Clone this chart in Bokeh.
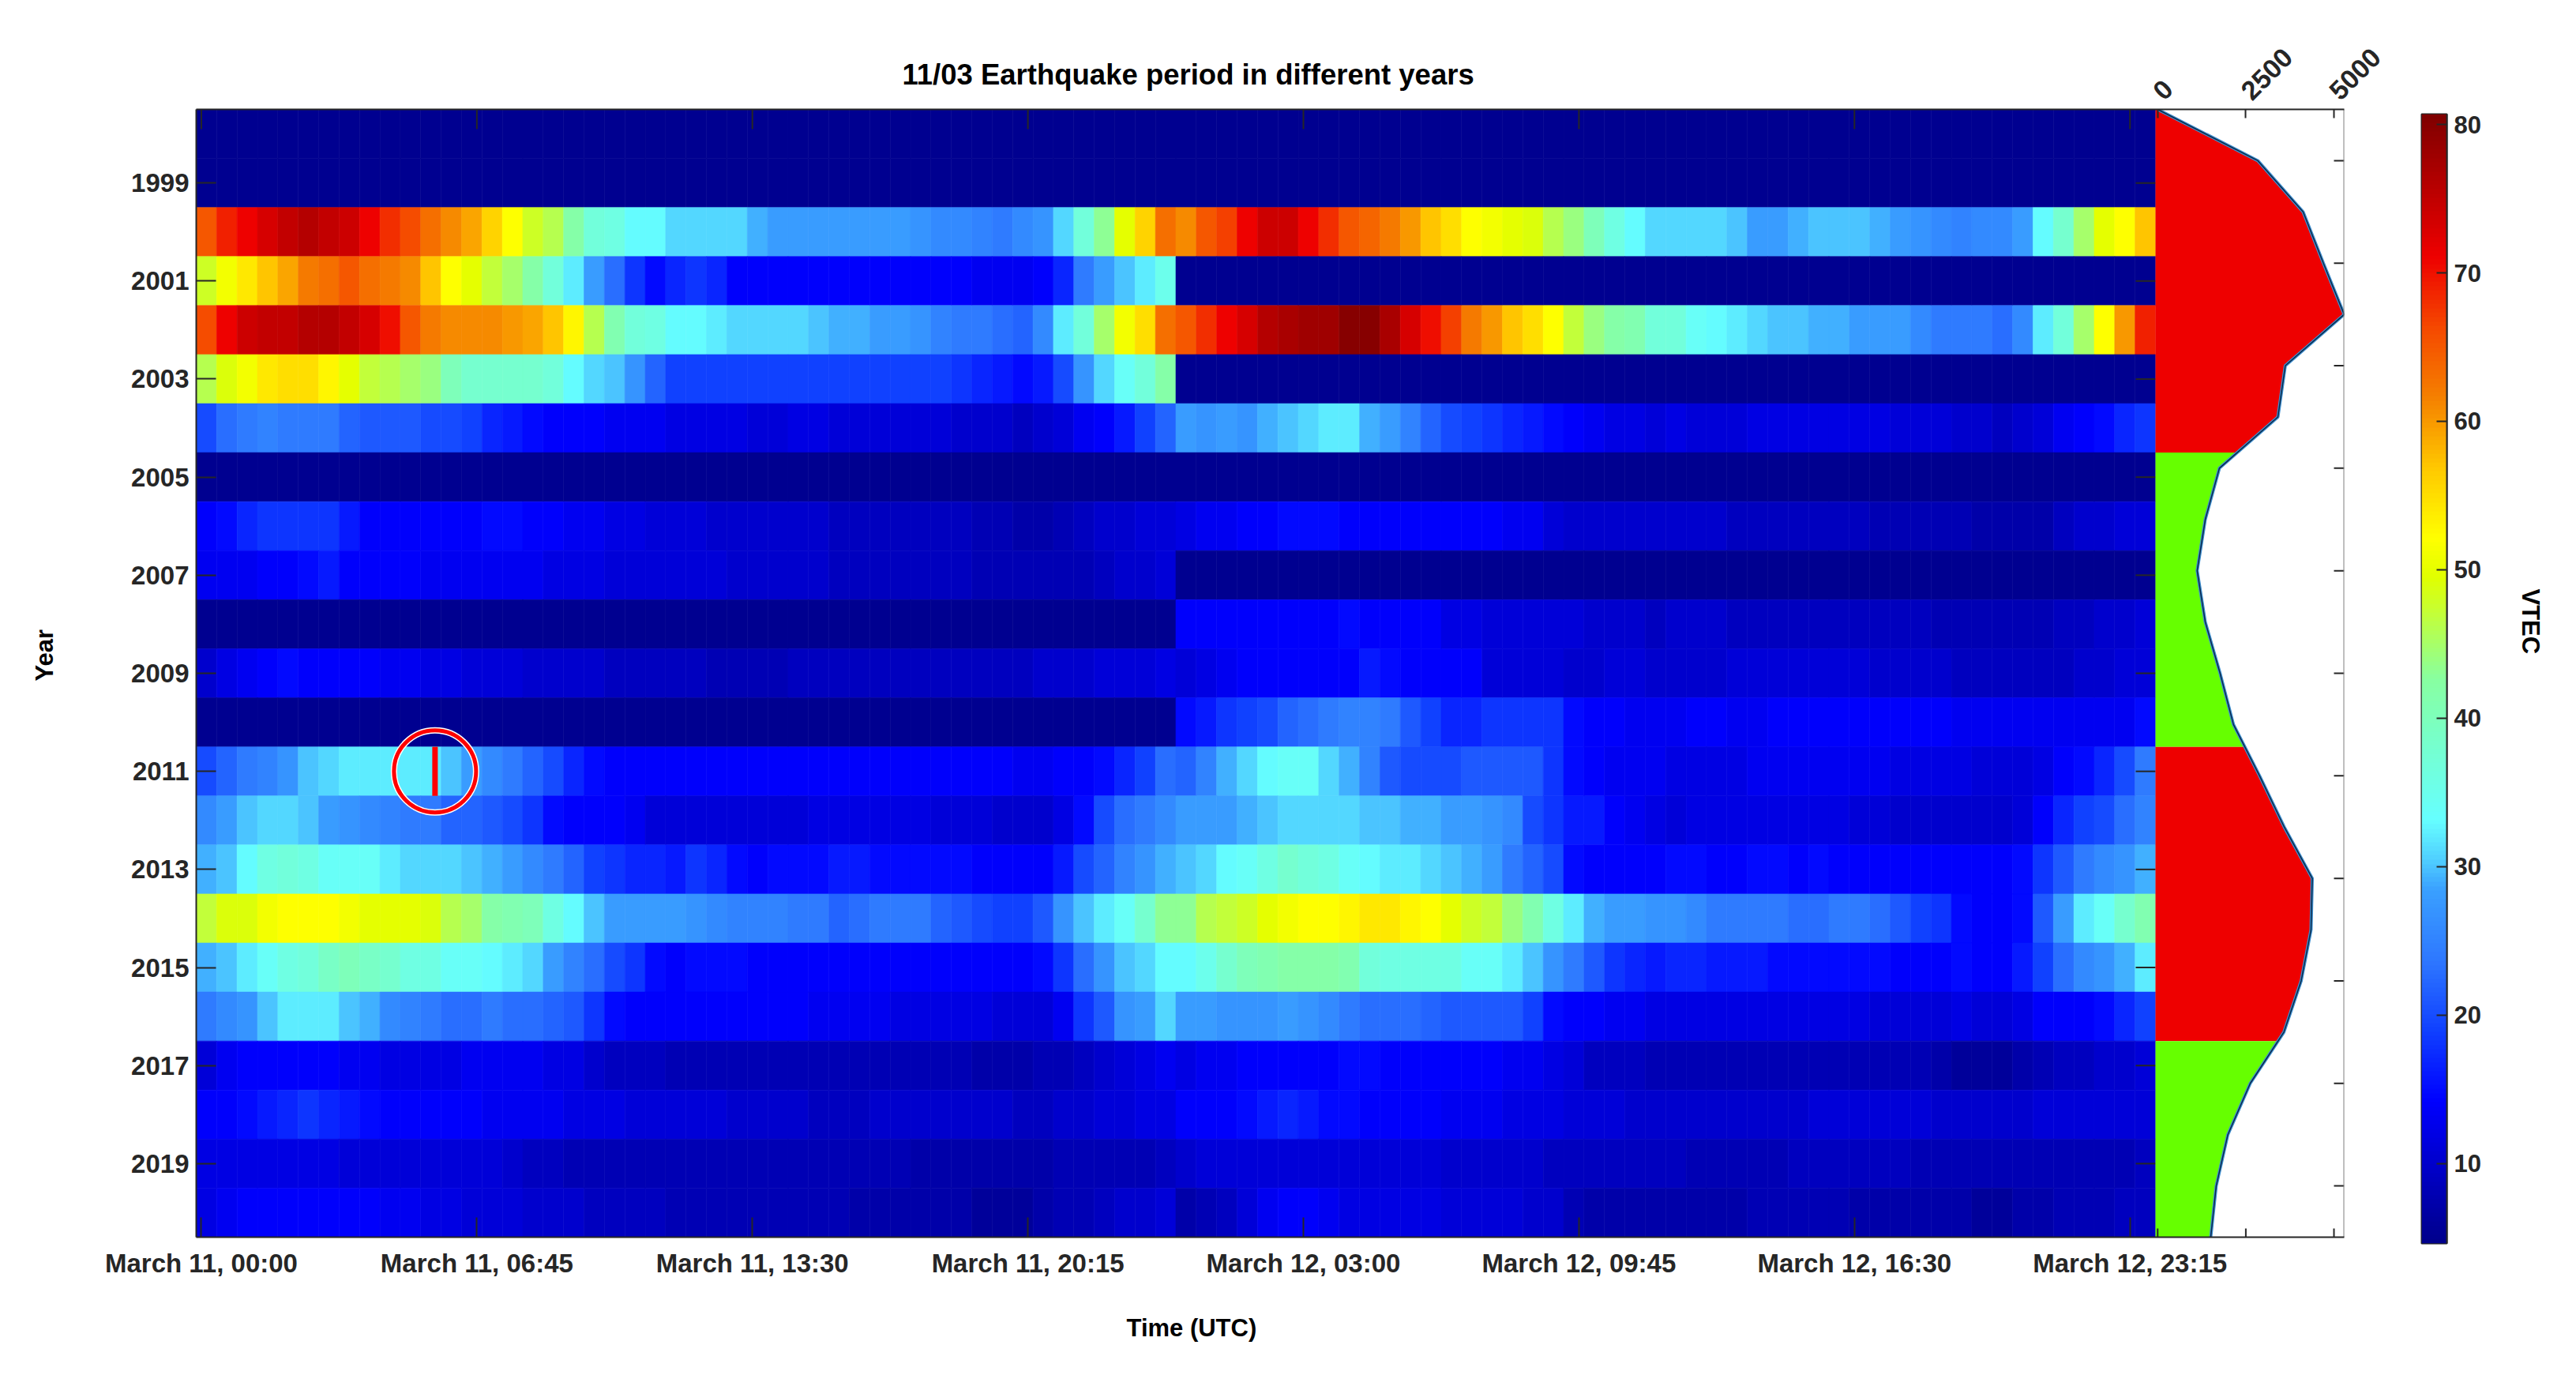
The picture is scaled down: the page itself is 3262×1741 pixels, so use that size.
import math
import numpy as np
from bokeh.embed import file_html
from bokeh.layouts import row
from bokeh.models import (ColumnDataSource, FixedTicker, LinearAxis, LinearColorMapper,
                          Range1d, Title)
from bokeh.plotting import figure
from bokeh.resources import INLINE
from bokeh.transform import transform

# ---------- data: VTEC per year, one value per 30 min over March 11-12 ----------
years = list(range(1998, 2021))
year_ticks = list(range(1999, 2020, 2))
time_tick_index = [1, 28, 55, 82, 109, 136, 163, 190]
time_tick_labels = ["March 11, 00:00", "March 11, 06:45", "March 11, 13:30", "March 11, 20:15",
                    "March 12, 03:00", "March 12, 09:45", "March 12, 16:30", "March 12, 23:15"]

v1998 = [5] * 96
v1999 = [5] * 96
v2000 = [65,69,71,73,75,76,75,74,71,68,66,63,61,59,56,52,48,46,42,37,36,33,33,31,
         31,31,31,29,28,28,28,28,28,28,28,27,26,26,25,24,26,27,31,37,43,50,56,63,
         61,65,67,71,74,74,71,68,65,64,62,60,57,55,52,51,50,49,46,44,40,36,33,31,
         31,31,31,30,28,28,29,30,30,30,29,28,27,26,25,26,26,28,33,38,45,50,52,57]
v2001 = [48,51,54,57,59,62,63,65,63,62,61,57,52,50,47,45,42,37,32,28,23,18,15,17,
         18,17,14,14,14,14,14,14,14,14,14,14,14,14,13,13,13,14,17,24,28,30,32,35] + [5] * 48
v2002 = [66,71,74,75,75,76,76,75,73,70,65,62,61,61,61,60,59,57,53,46,41,37,36,33,
         33,32,31,31,31,31,30,29,29,28,28,27,25,24,24,23,22,26,32,37,45,51,55,63,
         65,68,71,73,76,77,78,78,80,80,77,73,70,67,62,60,57,55,52,47,44,42,41,37,
         37,34,33,32,31,30,30,29,29,28,28,28,26,24,24,24,23,26,32,37,45,52,60,69]
v2003 = [46,49,51,54,55,55,53,50,47,46,45,44,40,38,38,38,38,37,33,31,30,27,22,19,
         19,19,19,19,19,19,19,19,19,19,19,19,19,18,17,16,15,16,20,27,31,34,37,42] + [5] * 48
v2004 = [20,23,24,25,24,24,24,22,21,21,21,20,20,19,17,16,15,14,14,14,13,13,13,12,
         12,12,12,11,11,12,12,11,11,11,11,11,11,10,10,10,9,10,11,13,14,16,19,22,
         28,27,28,27,29,30,31,32,32,29,28,25,22,20,19,18,17,16,15,14,13,12,12,11,
         12,11,11,11,12,12,12,12,12,12,12,11,11,11,10,10,9,10,11,13,14,15,17,18]
v2005 = [5] * 96
v2006 = [14,15,17,18,18,18,18,16,14,14,14,14,14,14,15,15,14,14,13,13,12,12,11,11,
         11,10,10,10,10,10,10,9,9,9,9,9,9,9,8,8,7,7,8,9,10,10,11,11,
         12,13,13,14,14,15,15,15,14,14,14,14,14,14,14,14,13,13,11,10,10,10,10,10,
         10,10,10,9,9,9,9,9,9,9,8,8,8,8,8,7,7,7,7,9,10,10,11,11]
v2007 = [13,13,13,14,14,15,16,14,14,14,14,13,13,13,13,13,13,12,12,12,11,11,11,11,
         11,11,10,10,10,10,10,9,9,9,9,9,9,9,8,8,8,8,8,8,9,10,10,11] + [5] * 48
v2008 = [5] * 48 + [14,14,14,14,14,14,14,14,15,14,14,14,14,12,12,11,11,11,11,11,10,10,10,9,
                    10,10,10,9,9,9,9,9,9,9,9,9,9,8,8,8,8,8,8,9,9,10,10,11]
v2009 = [10,12,13,14,15,14,14,14,14,13,13,12,12,11,11,11,10,10,10,10,9,9,9,9,
         9,8,8,8,8,9,9,9,9,9,9,9,9,9,9,9,9,10,10,10,11,11,11,12,
         11,12,13,14,14,14,14,14,14,16,15,14,14,14,14,11,11,11,11,10,10,11,11,10,
         10,10,10,11,11,11,11,11,11,11,10,10,10,10,9,9,9,9,9,9,10,10,11,11]
v2010 = [5] * 48 + [15,16,18,19,20,22,23,24,25,25,24,21,19,17,17,18,18,18,18,15,14,14,13,13,
                    13,14,14,13,13,14,14,14,14,14,14,14,14,14,13,13,13,13,13,13,13,13,13,15]
v2011 = [20,22,24,25,27,30,31,32,32,32,32,32,30,28,26,24,22,20,17,15,14,14,14,14,
         14,14,14,14,14,14,14,14,14,14,14,14,14,14,14,14,13,13,14,14,15,17,19,23,
         22,25,29,31,33,34,34,31,29,25,21,20,20,20,21,21,21,21,18,15,14,13,13,13,
         12,12,12,12,13,13,13,13,13,13,13,12,12,12,12,11,11,11,12,14,15,17,20,24]
v2012 = [26,28,30,31,31,30,28,27,26,25,24,24,22,22,21,20,18,15,14,14,14,13,11,11,
         11,11,11,11,11,11,12,12,12,12,12,12,11,11,11,10,10,10,12,15,20,23,24,26,
         28,28,28,29,30,31,31,31,31,30,30,29,29,28,28,27,26,20,18,16,16,14,13,12,
         11,12,12,12,12,12,12,12,12,11,11,10,10,10,10,10,10,11,14,17,19,20,23,25]
v2013 = [29,30,33,36,37,36,34,34,34,32,31,31,31,30,29,28,26,24,22,19,18,17,17,16,
         18,17,15,14,15,15,15,16,16,15,15,15,15,15,14,14,14,14,16,20,22,25,27,29,
         30,31,33,34,36,38,37,36,34,33,32,32,31,30,29,28,24,22,20,15,14,14,14,14,
         15,15,14,14,15,15,14,15,14,14,14,14,14,14,14,14,14,15,18,21,24,26,27,29]
v2014 = [47,49,49,51,52,52,52,51,50,50,50,49,46,45,42,41,40,36,33,30,28,28,28,28,
         27,26,25,25,25,24,24,22,23,24,24,24,22,21,20,19,19,21,27,30,32,34,38,43,
         43,46,47,48,50,51,52,52,53,54,54,53,52,50,48,47,44,41,36,32,29,28,28,27,
         27,26,24,24,24,24,23,23,24,24,23,21,19,18,15,14,14,15,21,28,32,34,38,41]
v2015 = [29,30,32,34,36,37,39,40,39,38,36,36,34,34,33,32,31,28,25,23,20,18,15,14,
         15,15,15,14,14,14,14,14,14,14,14,14,14,14,14,14,14,15,18,23,27,30,31,33,
         33,35,38,40,41,42,42,42,41,37,36,36,36,36,34,34,32,30,27,24,21,18,17,16,
         17,17,16,16,16,15,15,15,15,15,15,14,14,14,15,14,14,16,19,23,26,27,29,32]
v2016 = [24,26,27,30,32,32,32,30,29,26,25,24,23,23,24,23,23,22,21,18,15,14,14,14,
         14,14,14,14,14,14,13,13,13,13,12,12,12,12,12,11,11,11,13,18,21,27,28,31,
         28,28,27,27,27,28,27,26,24,23,23,23,22,21,21,21,21,19,15,14,14,13,13,12,
         12,12,12,12,12,12,12,12,12,12,11,11,11,11,12,11,11,12,14,14,14,15,17,19]
v2017 = [11,13,14,14,14,14,14,13,13,12,12,12,12,13,13,13,13,12,12,10,9,9,9,8,
         8,8,8,8,8,8,8,8,8,8,8,8,8,8,7,7,7,8,8,9,10,11,12,13,
         12,13,13,14,14,14,14,14,15,15,14,14,14,14,14,14,13,13,12,11,9,9,9,8,
         8,8,8,8,8,8,8,8,8,8,8,8,8,7,6,6,6,7,8,9,9,10,10,11]
v2018 = [14,14,15,16,17,18,17,16,15,14,14,14,14,14,13,13,13,13,12,12,12,11,11,11,
         11,11,10,10,10,10,9,9,9,10,10,10,10,10,10,10,9,9,10,10,11,11,12,12,
         14,14,14,15,16,17,16,15,15,14,14,14,14,13,13,13,12,12,12,11,11,11,10,10,
         10,10,10,10,10,10,10,11,11,11,11,11,11,10,10,10,10,10,11,11,11,11,11,11]
v2019 = [12,12,12,12,12,12,12,11,11,11,11,11,11,11,11,10,9,9,8,8,8,8,8,8,
         8,8,8,8,8,8,8,8,8,8,8,7,7,7,7,7,7,7,8,8,8,8,8,9,
         10,11,11,11,11,11,11,11,11,11,11,11,11,10,10,10,10,10,9,9,9,9,9,9,
         9,8,8,8,8,8,9,9,9,9,9,9,8,8,8,8,8,8,8,8,8,8,8,9]
v2020 = [12,13,14,14,14,14,14,14,14,13,13,12,12,11,11,11,10,10,10,9,9,9,9,8,
         8,8,8,8,8,8,8,8,7,7,7,7,7,7,6,6,6,7,8,8,9,10,10,11,
         7,8,9,11,13,14,14,13,12,12,12,12,12,11,11,11,11,10,10,8,7,7,7,7,
         7,7,7,7,8,8,8,8,8,7,7,7,7,7,7,6,6,7,7,8,8,8,9,9]
vtec_rows = [v1998, v1999, v2000, v2001, v2002, v2003, v2004, v2005, v2006, v2007, v2008, v2009,
             v2010, v2011, v2012, v2013, v2014, v2015, v2016, v2017, v2018, v2019, v2020]

# Side profile, one value per year step
side_values = [0, 2840, 4125, 4700, 5290, 3620, 3410, 1750, 1350, 1120, 1350, 1770,
               2150, 2890, 3590, 4385, 4350, 4070, 3580, 2625, 1990, 1660, 1505]
side_ticks = [0, 2500, 5000]
side_index_ticks = list(range(2, 23, 2))
cycle_breaks = [2004.5, 2010.5, 2016.5]      # years where the solar phase changes
cycle_colors = ["#EE0000", "#66FF00", "#EE0000", "#66FF00"]
colorbar_ticks = [10, 20, 30, 40, 50, 60, 70, 80]
event_index = 23.9       # about 05:46 UTC
event_year = 2011
vtec_low, vtec_high = 4.6, 80.7

# ---------- styling ----------
FONT = "Liberation Sans"
DARK = "#262626"
stops = [(0, "#00008c"), (.125, "#0000ff"), (.1875, "#1040ff"), (.25, "#2e78ff"), (.3125, "#3aa0ff"),
         (.34, "#50d0ff"), (.375, "#66ffff"), (.4375, "#75ffd0"), (.5, "#88ffa0"), (.5625, "#c8ff30"),
         (.59, "#e0ff00"), (.625, "#ffff00"), (.6875, "#ffc800"), (.75, "#f58000"), (.8125, "#f54800"),
         (.875, "#ee0000"), (1, "#800000")]
pos = [s[0] for s in stops]
chan = [[int(s[1][i:i + 2], 16) for s in stops] for i in (1, 3, 5)]
grid = np.linspace(0, 1, 256)
palette = ["#%02x%02x%02x" % tuple(int(round(np.interp(t, pos, c))) for c in chan) for t in grid]
mapper = LinearColorMapper(palette=palette, low=vtec_low, high=vtec_high)

HEAT_W, SIDE_W, FR_H = 2481, 239, 1428
LEFT, RIGHT, TOP, BOTTOM = 249, 80, 138, 174
LEFT_PANELS = 303                      # axis plus "Year" panel; the excess hangs off the page edge
U_X = HEAT_W / 192                     # px per time step
U_Y = FR_H / 23                        # px per year


def style_axis(ax, tick_in, size="32px"):
    ax.major_tick_in = tick_in
    ax.major_tick_out = 0
    ax.minor_tick_in = 0
    ax.minor_tick_out = 0
    ax.major_tick_line_color = DARK
    ax.major_tick_line_width = 2
    ax.axis_line_color = DARK
    ax.axis_line_width = 2
    ax.major_label_text_font = FONT
    ax.major_label_text_font_style = "bold"
    ax.major_label_text_font_size = size
    ax.major_label_text_color = DARK


def name_title(text, size, align, offset, standoff):
    return Title(text=text, align=align, offset=offset, standoff=standoff, text_font=FONT,
                 text_font_style="bold", text_font_size=size, text_color="black")


# ---------- one frame holds heat map and side profile ----------
x0, x1 = -62, 5291
U_S = SIDE_W / (x1 - x0)               # px per side-profile unit
U_I = FR_H / 22                        # px per side-profile index step

p = figure(frame_width=HEAT_W + SIDE_W, frame_height=FR_H, min_border_left=LEFT, min_border_right=RIGHT,
           min_border_top=TOP, min_border_bottom=BOTTOM, output_backend="svg", toolbar_location=None,
           x_range=Range1d(0.5, 192.5 + SIDE_W / U_X), y_range=Range1d(2020.5, 1997.5),
           x_axis_location="below", y_axis_location="left", outline_line_color=None, frame_align=False,
           margin=(0, 0, 0, LEFT - LEFT_PANELS))
p.extra_x_ranges = {"side": Range1d(x0 - HEAT_W / U_S, x1)}
p.extra_y_ranges = {"side": Range1d(23, 1)}
p.grid.visible = False

xs, ys, vals = [], [], []
for yr, r in zip(years, vtec_rows):
    for i, v in enumerate(r):
        xs.append(1.5 + 2 * i)
        ys.append(yr)
        vals.append(v)
src = ColumnDataSource(dict(x=xs, y=ys, v=vals))
p.rect("x", "y", width=2, height=1, source=src, fill_color=transform("v", mapper),
       line_color=transform("v", mapper), line_width=0.6)

style_axis(p.xaxis[0], 25, "33px")
p.xaxis[0].ticker = FixedTicker(ticks=time_tick_index)
p.xaxis[0].major_label_overrides = dict(zip(time_tick_index, time_tick_labels))
p.xaxis[0].major_label_standoff = 14
style_axis(p.yaxis[0], 25, "33px")
p.yaxis[0].ticker = FixedTicker(ticks=year_ticks)
p.yaxis[0].major_label_standoff = 9

# Mirrored heat-map ticks
p.segment(time_tick_index, [1997.5] * 8, time_tick_index, [1997.5 + 25 / U_Y] * 8,
          line_color=DARK, line_width=2)
p.segment([192.5 - 25 / U_X] * len(year_ticks), year_ticks, [192.5] * len(year_ticks), year_ticks,
          line_color=DARK, line_width=2)

# Earthquake marker
p.scatter([event_index], [event_year], marker="circle", size=104, fill_color=None,
          line_color="white", line_width=8)
p.scatter([event_index], [event_year], marker="circle", size=104, fill_color=None,
          line_color="#ff0000", line_width=5)
p.segment([event_index], [event_year - 0.5], [event_index], [event_year + 0.5],
          line_color="#ff0000", line_width=7)

# Side profile
side_kw = dict(x_range_name="side", y_range_name="side")
idx = np.arange(1, 24, dtype=float)
values = np.array(side_values, dtype=float)
edges = [1.0] + [1 + 22 * (b - 1997.5) / 23 for b in cycle_breaks] + [23.0]
for k, col in enumerate(cycle_colors):
    a, b = edges[k], edges[k + 1]
    inner = idx[(idx > a) & (idx < b)]
    seg = np.concatenate(([a], inner, [b]))
    p.harea(x1=[x0] * len(seg), x2=np.interp(seg, idx, values).tolist(), y=seg.tolist(),
            fill_color=col, **side_kw)
p.line(side_values, idx.tolist(), line_color="#3f8fd0", line_width=4, **side_kw)
p.line(side_values, idx.tolist(), line_color="#0a2a4a", line_width=1.5, **side_kw)

top_axis = LinearAxis(x_range_name="side", ticker=FixedTicker(ticks=side_ticks))
style_axis(top_axis, 11, "34px")
top_axis.major_label_orientation = math.pi / 4
top_axis.major_label_standoff = 18
p.add_layout(top_axis, "above")
p.segment(side_ticks, [23] * 3, side_ticks, [23 - 11 / U_I] * 3, line_color=DARK, line_width=2, **side_kw)
n_side = len(side_index_ticks)
p.segment([x1 - 13 / U_S] * n_side, side_index_ticks, [x1] * n_side, side_index_ticks,
          line_color=DARK, line_width=2, **side_kw)
p.segment([x1], [1], [x1], [23], line_color="#808080", line_width=2, **side_kw)

# Titles and axis names
p.add_layout(name_title("11/03 Earthquake period in different years", "36.5px", "left", 894, -135), "above")
p.add_layout(name_title("Time (UTC)", "31px", "left", 1178, 82), "below")
p.add_layout(name_title("Year", "31px", "left", 704, 180), "left")

# ---------- colour bar ----------
cb_x = LEFT + HEAT_W + SIDE_W + RIGHT
cb = figure(frame_width=32, frame_height=1430, min_border_left=3067 - cb_x, min_border_right=160,
            min_border_top=144, min_border_bottom=156, output_backend="svg", toolbar_location=None,
            x_range=Range1d(0, 1), y_range=Range1d(vtec_low, vtec_high),
            x_axis_location=None, y_axis_location="right", outline_line_color=DARK, outline_line_width=2,
            frame_align=False)
cb.grid.visible = False
cb.image(image=[np.linspace(vtec_low, vtec_high, 256).reshape(-1, 1)], x=0, y=vtec_low, dw=1,
         dh=vtec_high - vtec_low, color_mapper=mapper)
style_axis(cb.yaxis[0], 13, "31px")
cb.yaxis[0].ticker = FixedTicker(ticks=colorbar_ticks)
cb.yaxis[0].major_label_standoff = 9
cb.add_layout(name_title("VTEC", "31px", "left", 601, 84), "right")

page = row(p, cb, spacing=0)
open("out.html", "w").write(file_html(page, INLINE))
